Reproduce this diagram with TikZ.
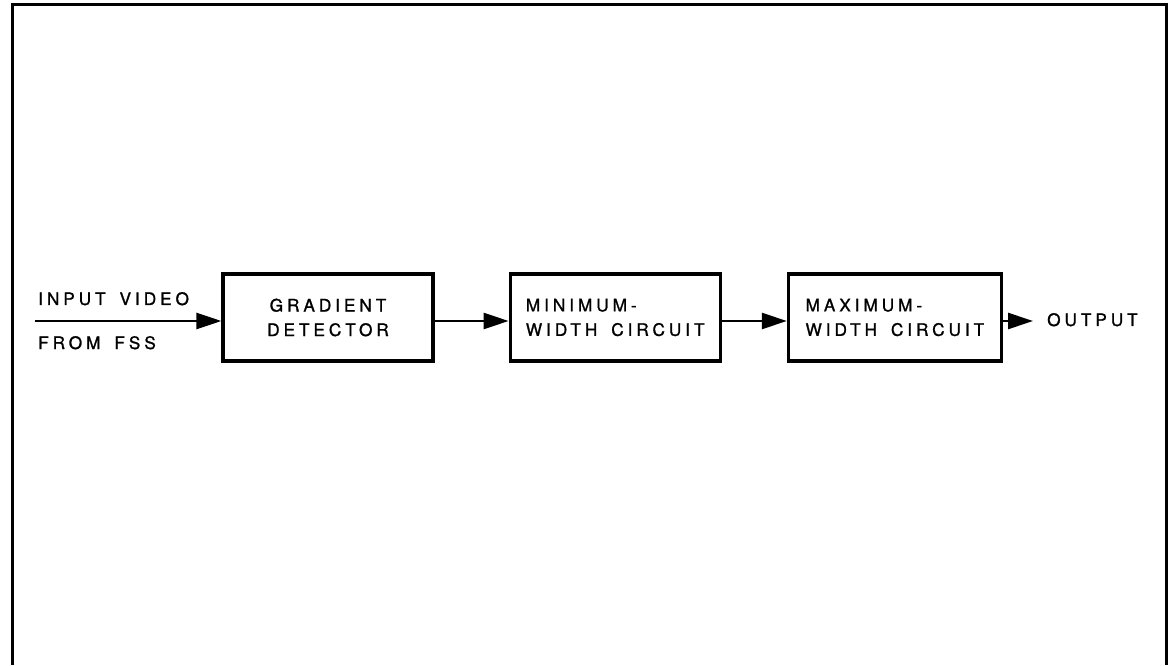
\documentclass[tikz,border=0pt]{standalone}
\usepackage{fontspec}
\newfontfamily\lettering[LetterSpace=23, WordSpace=1.6, FakeBold=1.2]{TeX Gyre Heros}
\usetikzlibrary{arrows.meta,positioning}

\begin{document}
\begin{tikzpicture}[
  x=1pt, y=1pt,
  node distance=74pt,
  box/.style={draw, line width=3.2pt, minimum width=210pt, minimum height=87pt,
    inner sep=0pt, align=left, font=\lettering\fontsize{17.2}{24.5}\selectfont},
  lbl/.style={anchor=base west, inner sep=0pt,
    font=\lettering\fontsize{17.2}{20}\selectfont},
  flow/.style={-{Triangle[length=25pt, width=16pt]}, line width=2.6pt}
]
  \useasboundingbox (0,0) rectangle (1170,665);
  % frame, open at the bottom
  \draw[line width=3pt] (12,0) -- (12,660) -- (1166,660) -- (1166,0);

  \node[box, align=center] (gd) at (328,347.5) {GRADIENT\\DETECTOR};
  \node[box, right=74pt of gd] (mwc) {MINIMUM-\\WIDTH CIRCUIT};
  \node[box, right=65pt of mwc, minimum width=213pt] (xwc) {MAXIMUM-\\WIDTH CIRCUIT};

  \coordinate (in) at (35,344);
  \coordinate (out) at (1033,344);
  \node[lbl] (vid) at (38,360) {INPUT VIDEO};
  \node[lbl] (fss) at (38,316) {FROM FSS};
  \node[lbl] (outp) at (1047,339) {OUTPUT};

  \draw[flow] (in) -- ([yshift=-3.5pt]gd.west);
  \draw[flow] ([yshift=-3.5pt]gd.east) -- ([yshift=-3.5pt]mwc.west);
  \draw[flow] ([yshift=-3.5pt]mwc.east) -- ([yshift=-3.5pt]xwc.west);
  \draw[flow] ([yshift=-3.5pt]xwc.east) -- (out);
\end{tikzpicture}
\end{document}
